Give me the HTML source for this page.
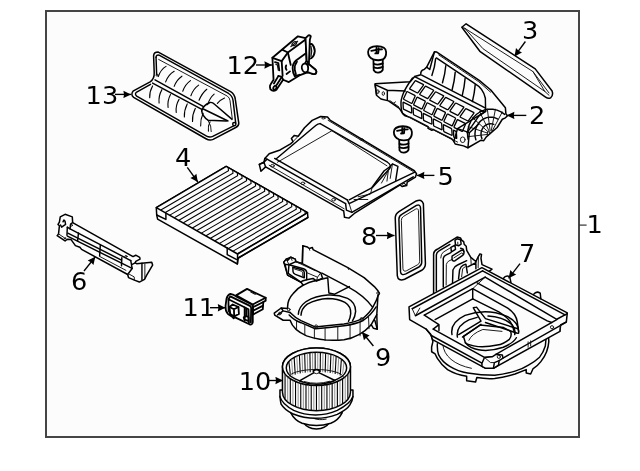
<!DOCTYPE html>
<html><head><meta charset="utf-8">
<style>
html,body{margin:0;padding:0;background:#fff;}
svg{display:block;filter:grayscale(1)}
text{font-family:"DejaVu Sans","Liberation Sans",sans-serif;font-size:25.6px;fill:#000}
.ln{vector-effect:non-scaling-stroke;fill:none;stroke:#000;stroke-width:1.45;stroke-linecap:round;stroke-linejoin:round}
.th{vector-effect:non-scaling-stroke;fill:none;stroke:#111;stroke-width:0.95;stroke-linecap:round;stroke-linejoin:round}
.fw{vector-effect:non-scaling-stroke;fill:#fcfcfc;stroke:#000;stroke-width:1.5;stroke-linecap:round;stroke-linejoin:round}
.pl{fill:none;stroke:#000;stroke-width:1.08;vector-effect:non-scaling-stroke}
.pv{fill:none;stroke:#555;stroke-width:0.6;vector-effect:non-scaling-stroke}
.fin{fill:none;stroke:#000;stroke-width:1.1;vector-effect:non-scaling-stroke}
.fin2{fill:none;stroke:#666;stroke-width:0.7;vector-effect:non-scaling-stroke}
.gc{fill:none;stroke:#000;stroke-width:1.3;stroke-linejoin:round;vector-effect:non-scaling-stroke}
.rb{fill:none;stroke:#000;stroke-width:1.1;stroke-linecap:round;vector-effect:non-scaling-stroke}
.bold .fw,.bold .ln{stroke-width:1.8}
.bold .th{stroke-width:1.25}
.ar{stroke:#000;stroke-width:1.35;fill:none}
</style></head><body>
<svg width="640" height="471" viewBox="0 0 640 471">
<defs>
<marker id="ah" markerWidth="10" markerHeight="8" refX="7" refY="4" viewBox="-2 0 10 8" orient="auto" markerUnits="userSpaceOnUse"><path d="M-0.6,0.3 L7,4 L-0.6,7.7 L0,4 Z" fill="#000"/></marker>
</defs>
<rect x="0" y="0" width="640" height="471" fill="#fff"/>
<rect x="46" y="11" width="533" height="426" fill="#fcfcfc" stroke="#454545" stroke-width="2"/>
<!--LABELS-->
<g id="labels" opacity="0.999">
<text x="85.6" y="103.6">13</text><line class="ar" x1="115" y1="94.4" x2="131" y2="94.4" marker-end="url(#ah)"/>
<text x="226.4" y="74.3">12</text><line class="ar" x1="256" y1="65" x2="272" y2="65" marker-end="url(#ah)"/>
<text x="522" y="38.8">3</text><line class="ar" x1="525.4" y1="41.5" x2="514.5" y2="56.4" marker-end="url(#ah)"/>
<text x="529" y="124.4">2</text><line class="ar" x1="526.3" y1="115.4" x2="506.8" y2="115.4" marker-end="url(#ah)"/>
<text x="437.5" y="184.7">5</text><line class="ar" x1="434.4" y1="175.4" x2="416.8" y2="175.4" marker-end="url(#ah)"/>
<text x="586.4" y="232.7">1</text><line x1="579" y1="225.1" x2="586.6" y2="225.1" stroke="#333" stroke-width="1.2"/>
<text x="519" y="261.7">7</text><line class="ar" x1="520" y1="263.6" x2="508.6" y2="278.3" marker-end="url(#ah)"/>
<text x="361" y="244.6">8</text><line class="ar" x1="376" y1="235.5" x2="394.5" y2="235.5" marker-end="url(#ah)"/>
<text x="375" y="366">9</text><line class="ar" x1="373.4" y1="346" x2="362" y2="332" marker-end="url(#ah)"/>
<text x="238.8" y="389.9">10</text><line class="ar" x1="268" y1="380.5" x2="283" y2="380.5" marker-end="url(#ah)"/>
<text x="182.4" y="316.4">11</text><line class="ar" x1="210" y1="307.7" x2="225.4" y2="307.7" marker-end="url(#ah)"/>
<text x="71" y="290.3">6</text><line class="ar" x1="84" y1="271" x2="95.3" y2="256.8" marker-end="url(#ah)"/>
<text x="175" y="165.7">4</text><line class="ar" x1="187.3" y1="167.3" x2="197.8" y2="182" marker-end="url(#ah)"/>
</g>
<!-- p00screws.svg -->
<defs><g id="screw" class="bold" transform="scale(0.07645)">
<path class="fw" d="M228,225 L232,370 Q250,402 290,400 Q335,398 350,365 L350,225 Z"/>
<path class="ln" d="M232,285 Q285,310 350,280 M232,330 Q285,355 350,325"/>
<path class="fw" d="M158,130 Q160,60 275,55 Q390,58 394,130 Q398,200 350,228 Q290,250 228,228 Q158,200 158,130 Z"/>
<path class="ln" d="M200,115 L252,105 M290,100 L340,95 M268,75 L268,150 M295,80 L293,135 M252,150 L290,148"/>
</g></defs>
<use href="#screw" x="356" y="42"/>
<use href="#screw" x="381.76" y="122.05"/>

<!-- p02.svg -->
<g transform="translate(368,45) scale(0.23568)">
<path class="fw" d="M30,164 L179,156 L198,134 L224,126 Q222,108 238,104 L249,94 L282,29 L292,30 L472,150 L521,191 L583,266 L585,291 L591,301 L583,309 L570,315 L548,350 L502,390 L491,406 L480,404 L424,436 L405,428 L370,420 L364,409 L356,399 L276,358 L271,362 L255,354 L255,347 L179,307 L155,299 L149,293 L133,269 L87,237 L55,229 L36,213 Z"/>
<path class="ln" d="M290,55 L452,163 Q490,185 498,226 L499,282"/>
<path class="th" d="M300,42 L470,156 L520,200"/>
<path class="ln" d="M287,58 Q284,93 271,129"/>
<path class="ln" d="M330,88 Q327,124 316,160"/>
<path class="ln" d="M370,116 Q367,153 357,190"/>
<path class="ln" d="M412,142 Q409,178 400,214"/>
<path class="ln" d="M455,168 Q452,204 443,240"/>
<path class="ln" d="M249,94 L262,104 L282,29"/>
<path class="ln" d="M198,134 L494,285"/>
<path class="ln" d="M228,128 L499,268"/>
<path class="gc" d="M199.2,152.9 Q201.0,150.5 203.7,151.9 L233.8,167.1 Q236.5,168.5 234.7,170.9 L212.3,201.6 Q210.5,204.0 207.8,202.6 L178.2,187.4 Q175.5,186.0 177.3,183.6 Z"/>
<path class="gc" d="M242.0,176.7 Q243.8,174.3 246.5,175.7 L276.6,190.9 Q279.3,192.3 277.5,194.7 L255.1,225.4 Q253.3,227.8 250.6,226.4 L221.0,211.2 Q218.3,209.8 220.1,207.4 Z"/>
<path class="gc" d="M284.8,200.5 Q286.6,198.1 289.3,199.5 L319.4,214.7 Q322.1,216.1 320.3,218.5 L297.9,249.2 Q296.1,251.6 293.4,250.2 L263.8,235.0 Q261.1,233.6 262.9,231.2 Z"/>
<path class="gc" d="M327.6,224.3 Q329.4,221.9 332.1,223.3 L362.2,238.5 Q364.9,239.9 363.1,242.3 L340.7,273.0 Q338.9,275.4 336.2,274.0 L306.6,258.8 Q303.9,257.4 305.7,255.0 Z"/>
<path class="gc" d="M370.4,248.1 Q372.2,245.7 374.9,247.1 L405.0,262.3 Q407.7,263.7 405.9,266.1 L383.5,296.8 Q381.7,299.2 379.0,297.8 L349.4,282.6 Q346.7,281.2 348.5,278.8 Z"/>
<path class="gc" d="M413.2,271.9 Q415.0,269.5 417.7,270.9 L447.8,286.1 Q450.5,287.5 448.7,289.9 L426.3,320.6 Q424.5,323.0 421.8,321.6 L392.2,306.4 Q389.5,305.0 391.3,302.6 Z"/>
<path class="gc" d="M164.2,199.7 Q165.5,197.0 168.2,198.4 L198.3,213.6 Q201.0,215.0 199.8,217.7 L187.2,245.8 Q186.0,248.5 183.3,247.1 L152.7,231.4 Q150.0,230.0 151.3,227.3 Z"/>
<path class="gc" d="M207.0,223.5 Q208.3,220.8 211.0,222.2 L241.1,237.4 Q243.8,238.8 242.6,241.5 L230.0,269.6 Q228.8,272.3 226.1,270.9 L195.5,255.2 Q192.8,253.8 194.1,251.1 Z"/>
<path class="gc" d="M249.8,247.3 Q251.1,244.6 253.8,246.0 L283.9,261.2 Q286.6,262.6 285.4,265.3 L272.8,293.4 Q271.6,296.1 268.9,294.7 L238.3,279.0 Q235.6,277.6 236.9,274.9 Z"/>
<path class="gc" d="M292.6,271.1 Q293.9,268.4 296.6,269.8 L326.7,285.0 Q329.4,286.4 328.2,289.1 L315.6,317.2 Q314.4,319.9 311.7,318.5 L281.1,302.8 Q278.4,301.4 279.7,298.7 Z"/>
<path class="gc" d="M335.4,294.9 Q336.7,292.2 339.4,293.6 L369.5,308.8 Q372.2,310.2 371.0,312.9 L358.4,341.0 Q357.2,343.7 354.5,342.3 L323.9,326.6 Q321.2,325.2 322.5,322.5 Z"/>
<path class="gc" d="M378.2,318.7 Q379.5,316.0 382.2,317.4 L412.3,332.6 Q415.0,334.0 413.8,336.7 L401.2,364.8 Q400.0,367.5 397.3,366.1 L366.7,350.4 Q364.0,349.0 365.3,346.3 Z"/>
<path class="gc" d="M148.6,245.0 Q148.5,242.0 151.2,243.4 L181.3,258.6 Q184.0,260.0 184.2,263.0 L185.8,286.0 Q186.0,289.0 183.3,287.7 L152.7,273.3 Q150.0,272.0 149.9,269.0 Z"/>
<path class="gc" d="M191.4,268.8 Q191.3,265.8 194.0,267.2 L224.1,282.4 Q226.8,283.8 227.0,286.8 L228.6,309.8 Q228.8,312.8 226.1,311.5 L195.5,297.1 Q192.8,295.8 192.7,292.8 Z"/>
<path class="gc" d="M234.2,292.6 Q234.1,289.6 236.8,291.0 L266.9,306.2 Q269.6,307.6 269.8,310.6 L271.4,333.6 Q271.6,336.6 268.9,335.3 L238.3,320.9 Q235.6,319.6 235.5,316.6 Z"/>
<path class="gc" d="M277.0,316.4 Q276.9,313.4 279.6,314.8 L309.7,330.0 Q312.4,331.4 312.6,334.4 L314.2,357.4 Q314.4,360.4 311.7,359.1 L281.1,344.7 Q278.4,343.4 278.3,340.4 Z"/>
<path class="gc" d="M319.8,340.2 Q319.7,337.2 322.4,338.6 L352.5,353.8 Q355.2,355.2 355.4,358.2 L357.0,381.2 Q357.2,384.2 354.5,382.9 L323.9,368.5 Q321.2,367.2 321.1,364.2 Z"/>
<path class="gc" d="M362.6,363.0 Q362.5,361.0 364.3,361.9 L373.1,366.4 Q374.9,367.3 375.0,369.3 L376.5,395.0 Q376.6,396.9 374.8,396.1 L365.8,391.9 Q364.0,391.0 363.9,389.0 Z"/>
<path class="ln" d="M189,140 Q160,180 150,205 Q138,235 140,254 Q141,280 147,290 L166,303"/>
<path class="th" d="M166,303 L380,412"/>
<path class="ln" d="M82,192 L158,195 M82,192 L82,233 M36,209 L30,168 L82,192"/>
<ellipse class="th" cx="42" cy="198" rx="5" ry="8"/><ellipse class="th" cx="65" cy="206" rx="5" ry="8"/>
<path class="th" d="M93,236 L109,247 L117,241 M109,247 L130,262"/>
<path class="ln" d="M533.8,336.7 L526.8,334.6 L519.5,334.0 L512.2,334.8 L505.1,337.1 L498.6,340.7 L492.8,345.5 L487.8,351.3 L483.9,358.1 L481.2,365.5 L479.8,373.3 L479.6,381.2 L480.8,389.1 L483.3,396.6"/>
<path class="ln" d="M551.1,314.4 L539.8,309.3 L527.8,306.5 L515.6,306.2 L503.5,308.3 L491.9,312.8 L481.4,319.5 L472.1,328.3 L464.5,338.7 L458.8,350.5 L455.2,363.2 L453.8,376.5 L454.6,389.7 L457.8,402.6"/>
<path class="ln" d="M580.0,294.5 L564.6,283.7 L547.6,276.3 L529.7,272.5 L511.4,272.4 L493.4,276.0 L476.3,283.2 L460.8,293.8 L447.4,307.3 L436.5,323.3 L428.5,341.2 L423.8,360.4 L422.5,380.3 L424.6,400.0"/>
<path class="th" d="M526.4,365.9 L569.7,284.5"/>
<path class="th" d="M522.7,364.3 L540.7,272.4"/>
<path class="th" d="M518.2,364.1 L506.2,271.1"/>
<path class="th" d="M514.0,365.6 L473.4,282.6"/>
<path class="th" d="M510.1,369.0 L443.9,308.6"/>
<path class="th" d="M507.7,373.9 L425.0,346.4"/>
<path class="th" d="M507.2,379.5 L421.2,389.3"/>
<path class="ln" d="M499,282 L470,302 L440,345 L420,372"/>
<path class="ln" d="M494,285 L380,355 L364,409"/>
<path class="ln" d="M380,355 L430,372 L424,436"/>
<path class="ln" d="M430,372 L470,335"/>
<ellipse class="th" cx="402" cy="402" rx="10" ry="12"/>
<ellipse class="th" cx="512" cy="374" rx="6" ry="7"/>
</g>

<!-- p03.svg -->
<g transform="translate(455,15) scale(0.19108)">
<path class="fw" d="M36,64 L58,46 L420,282 L508,398 Q516,420 500,434 Q488,440 474,430 L130,190 Z"/>
<path class="th" d="M52,70 L408,296 L492,408"/>
<path class="th" d="M52,70 L146,176 L470,400 L492,420"/>
<path class="th" d="M408,296 L470,400"/>
<path class="th" d="M36,64 L52,70"/>
</g>

<!-- p04.svg -->
<g>
<path class="fw" d="M156.3,207.7 L156.7,215 L157.6,219.2 L237.4,264 L238.3,258 L307.9,217.6 L307.5,212.7 L226.2,166.4 Z"/>
<path class="fw" d="M226.2,166.4 L307.5,212.7 L237.6,254.0 L156.3,207.7 Z"/>
<path class="ln" d="M238.2,258.0 L307.9,217.3"/>
<path class="ln" d="M237.6,254.0 L237.4,264"/>
<path class="pl" d="M228.2,167.6 L228.5,170.6 L160.8,210.0"/>
<path class="pl" d="M232.7,170.1 L233.0,173.1 L165.3,212.5"/>
<path class="pl" d="M237.3,172.7 L237.6,175.7 L169.8,215.1"/>
<path class="pl" d="M241.8,175.3 L242.1,178.3 L174.3,217.7"/>
<path class="pl" d="M246.3,177.8 L246.6,180.8 L178.9,220.2"/>
<path class="pl" d="M250.8,180.4 L251.1,183.4 L183.4,222.8"/>
<path class="pl" d="M255.3,183.0 L255.6,186.0 L187.9,225.4"/>
<path class="pl" d="M259.8,185.6 L260.1,188.6 L192.4,228.0"/>
<path class="pl" d="M264.4,188.1 L264.7,191.1 L196.9,230.5"/>
<path class="pl" d="M268.9,190.7 L269.2,193.7 L201.4,233.1"/>
<path class="pl" d="M273.4,193.3 L273.7,196.3 L206.0,235.7"/>
<path class="pl" d="M277.9,195.9 L278.2,198.9 L210.5,238.2"/>
<path class="pl" d="M282.4,198.4 L282.7,201.4 L215.0,240.8"/>
<path class="pl" d="M286.9,201.0 L287.2,204.0 L219.5,243.4"/>
<path class="pl" d="M291.5,203.6 L291.8,206.6 L224.0,246.0"/>
<path class="pl" d="M296.0,206.1 L296.3,209.1 L228.5,248.5"/>
<path class="pl" d="M300.5,208.7 L300.8,211.7 L233.1,251.1"/>
<path class="pl" d="M305.0,211.3 L305.3,214.3 L237.5,253.6"/>
<path class="ln" d="M165.9,213.3 L165.9,219.4 M156.7,215 L165.9,219.4"/>
<path class="ln" d="M227.2,247.8 L227.2,254.6 L236.3,259.4"/>
</g>

<!-- p05.svg -->
<g transform="translate(250,105) scale(0.27390)">
<path class="fw" d="M258,42 L283,44 L292,55 L600,240 L608,251 L604,263 L574,282 L572,294 L556,298 L548,292 L381,396 L361,413 L345,410 L342,386 L338,385 L57,226 L40,242 L34,217 L51,209 L54,195 L70,178 L110,164 L148,142 L157,134 L151,122 L162,111 L176,114 L199,83 L227,56 Z"/>
<!-- top-right rail lines -->
<path class="th" d="M285,56 L596,243"/>
<path class="ln" d="M256,68 Q248,68 240,75 L96,196"/>
<path class="ln" d="M256,68 L502,209 Q518,219 510,232 L446,302 L362,346"/>
<!-- inner opening depth -->
<path class="th" d="M299,94 L100,209"/>
<path class="th" d="M299,94 L500,222"/>
<!-- bottom-left rail -->
<path class="ln" d="M90,195 L355,346"/>
<path class="ln" d="M62,198 L349,360"/>
<path class="th" d="M70,220 L344,379"/>
<path class="ln" d="M51,209 L62,198 L54,195"/>
<path class="ln" d="M34,217 L51,209 L57,226"/>
<ellipse class="th" cx="82" cy="222" rx="7" ry="4.5"/>
<ellipse class="th" cx="193" cy="286" rx="7" ry="4.5"/>
<ellipse class="th" cx="305" cy="346" rx="7" ry="4.5"/>
<!-- bottom-right rail -->
<path class="ln" d="M355,346 L362,360 L600,246"/>
<path class="ln" d="M349,360 L352,384 L372,392"/>
<path class="ln" d="M372,392 L596,262"/>
<path class="th" d="M362,360 L372,392"/>
<!-- gusset near right corner -->
<path class="ln" d="M508,228 L520,215 L540,224 L532,275"/>
<path class="ln" d="M446,300 L490,240 L508,228"/>
<path class="th" d="M480,285 L505,240 L500,278"/>
<path class="th" d="M520,215 L512,268"/>
<path class="th" d="M395,335 L440,325 L446,300"/>
<path class="th" d="M380,345 L430,345"/>
<ellipse class="th" cx="562" cy="290" rx="6" ry="4"/>
<!-- top corner hole -->
<ellipse class="th" cx="268" cy="48" rx="6" ry="3"/>
<ellipse class="th" cx="408" cy="126" rx="6" ry="3"/>
<!-- left bump -->
<path class="th" d="M157,134 L176,114"/>
</g>

<!-- p06.svg -->
<g transform="translate(52,205) scale(0.17197)">
<path class="fw" d="M48,69 L76,54 L118,69 L120,102 L471,300 L487,292 L510,305 L512,315 L487,328 L484,336 L492,341 L580,333 L585,349 L549,411 L538,432 L508,448 L479,437 L445,422 L440,404 L172,258 L162,246 L136,236 L110,200 L89,199 L76,209 L30,178 L38,168 L43,121 L35,113 L43,100 Z"/>
<!-- long lines -->
<path class="ln" d="M105,139 L458,323"/>
<path class="ln" d="M92,164 L404,320"/>
<path class="ln" d="M90,181 L466,369"/>
<path class="th" d="M279,300 L430,380"/>
<path class="ln" d="M89,129 L87,176"/>
<path class="ln" d="M154,163 L149,207"/>
<path class="ln" d="M281,232 L277,296"/>
<path class="ln" d="M406,307 L404,354"/>
<!-- left block -->
<path class="ln" d="M64,98 L69,87 L76,95 L79,113 L56,129 L50,116"/>
<path class="ln" d="M120,102 L108,111 L105,139 L89,129"/>
<path class="th" d="M38,168 L86,200"/>
<ellipse class="th" cx="113" cy="118" rx="6" ry="5"/>
<path class="th" d="M70,196 L80,190"/>
<!-- right block -->
<ellipse class="th" cx="430" cy="299" rx="7" ry="5"/>
<path class="ln" d="M458,323 L466,369 L440,404"/>
<path class="ln" d="M484,336 L466,345"/>
<path class="ln" d="M523,338 L523,434"/>
<path class="th" d="M540,343 L540,428"/>
<path class="th" d="M445,400 L478,418 L479,437"/>
</g>

<!-- p07.svg -->
<g transform="translate(395,232) scale(0.31847)">
<!-- lower cylinder -->
<path class="fw" d="M113,320 L119,344 L115,361 L115,376 L126,383 L133,397 Q146,418 165,432 Q192,448 225,453 L225,467 L253,471 L257,457 Q285,462 313,460 Q346,456 377,446 L412,432 L412,443 L426,446 L433,430 Q448,420 458,407 Q470,392 476,376 Q482,360 483,344 L480,300 L113,300 Z"/>
<path class="ln" d="M133,351 Q132,372 137,386 Q148,408 172,422 Q198,438 228,443 Q270,450 313,450 Q346,446 377,437 Q400,430 419,418 Q440,406 454,393 Q466,378 472,358 L474,337"/>
<path class="th" d="M150,352 Q152,380 176,400 Q200,420 240,428"/>
<!-- tower -->
<g transform="translate(103.6,6.3) scale(0.32)">
<path class="fw" d="M55,600 L55,195 Q58,165 90,150 L285,30 L320,40 L330,60 L350,75 L355,100 L375,120 L380,160 L420,230 L470,270 L495,220 L510,195 L525,200 L520,240 L530,300 L628,345 L300,600 Z"/>
<path class="ln" d="M82,560 L82,205 Q84,178 108,165 L215,102"/>
<path class="th" d="M125,235 Q126,198 150,178 L225,132"/>
<path class="ln" d="M150,520 L150,240 Q154,214 180,205 L225,182"/>
<path class="th" d="M178,500 L180,300 Q184,276 206,264 L236,250"/>
<path class="ln" d="M265,62 L285,46 L320,56 L325,100 L300,116 L270,106 Z"/>
<path class="th" d="M292,80 L294,108"/>
<path class="ln" d="M225,132 L265,110 L270,150 L230,176 Z"/>
<path class="ln" d="M236,216 L322,162 Q344,152 352,172 Q358,194 340,210 L266,262 Q242,272 236,250 Z"/>
<path class="th" d="M254,234 L330,186 Q340,184 340,194"/>
<path class="ln" d="M320,140 L346,150 L352,172"/>
<path class="ln" d="M240,500 L245,352 Q256,318 290,304 L380,262"/>
<path class="ln" d="M300,440 L310,352 Q322,318 346,306 L372,296 L386,382"/>
<path class="th" d="M330,420 L340,340 L364,322"/>
<path class="ln" d="M390,322 L470,282 M470,270 L470,342"/>
<path class="th" d="M495,220 L492,330 M420,230 L424,300"/>
</g>
<!-- frame outer -->
<path class="fw" d="M44,235 L273,112 L541,254 L538,282 L520,292 L518,312 L327,418 L309,428 L285,428 L273,422 L118,338 L112,321 L98,305 L46,275 Z"/>
<!-- back-left lines -->
<path class="ln" d="M54,241 L275,122"/>
<path class="th" d="M54,241 L64,263 L78,239"/>
<path class="ln" d="M64,263 L283,142"/>
<path class="ln" d="M92,261 L244,178"/>
<path class="ln" d="M126,275 L244,210"/>
<path class="ln" d="M244,178 L244,210"/>
<path class="th" d="M283,142 L244,178"/>
<!-- back-right lines -->
<path class="ln" d="M275,122 L534,260"/>
<path class="ln" d="M283,142 L508,274 L541,256"/>
<path class="ln" d="M258,160 L478,279 L492,284"/>
<path class="ln" d="M244,178 L354,239 Q380,256 384,282 L388,312"/>
<path class="ln" d="M244,210 L326,251 Q360,272 368,292 L376,318"/>
<!-- left block -->
<path class="ln" d="M92,261 L138,291 L138,309 M138,291 L120,305"/>
<!-- front-left rail -->
<path class="ln" d="M120,305 L281,394 L305,392"/>
<path class="ln" d="M98,305 L114,325 L273,412"/>
<!-- front-right rail -->
<path class="ln" d="M508,275 L317,384"/>
<path class="ln" d="M538,283 L339,396"/>
<path class="th" d="M520,292 L518,312"/>
<!-- corner post -->
<path class="fw" d="M305,392 L317,384 L337,386 L339,396 L327,404 L325,418 L309,428 L285,428 L273,422 L273,412 L281,394 Z"/>
<path class="ln" d="M327,404 L312,410 L309,428"/>
<path class="th" d="M281,394 L300,410 L312,410"/>
<!-- circular opening -->
<path class="ln" d="M179,322 Q172,285 220,262 Q285,238 350,264 Q392,284 388,318"/>
<path class="ln" d="M196,330 Q190,296 232,276 L258,268 M292,264 Q345,268 368,292 Q380,306 376,322"/>
<path class="ln" d="M215,328 L221,348 Q236,366 262,370 Q300,376 340,362 Q372,348 381,332"/>
<path class="ln" d="M215,328 L268,292 L341,300 L363,312 Q368,326 359,337 Q340,352 321,355 Q290,362 261,360 Q230,356 221,348"/>
<path class="th" d="M232,340 Q240,320 276,306 L336,312"/>
<!-- spokes -->
<path class="ln" d="M246,238 L270,280 L200,322 M256,236 L284,272 L386,304 M246,238 L256,236 M284,284 L384,318 M270,290 L212,330"/>
<!-- bolt holes -->
<circle class="th" cx="493" cy="299" r="5"/>
<circle class="th" cx="326" cy="392" r="5"/>
<path class="th" d="M418,345 L418,362 M426,342 L426,358"/>
<!-- bumps on back-right edge -->
<path class="ln" d="M340,146 Q348,134 360,140 L364,158 M435,196 Q444,184 456,192 L458,210"/>
</g>

<!-- p08.svg -->
<g transform="translate(350,192) scale(0.20382)">
<path class="fw" d="M222,128 Q222,108 240,96 L325,44 Q352,32 360,58 L370,352 Q370,372 352,384 L268,428 Q236,440 232,410 Z"/>
<path class="ln" d="M240,134 Q240,118 254,110 L326,66 Q344,58 346,78 L352,344 Q352,360 338,368 L274,402 Q250,412 248,392 Z"/>
<path class="th" d="M252,138 Q252,126 262,120 L322,84 Q334,78 336,92 L342,340 Q342,352 330,358 L278,386 Q262,394 260,378 Z"/>
</g>

<!-- p09.svg -->
<g transform="translate(262,240) scale(0.22292)">
<!-- back wall + scroll silhouette -->
<path class="fw" d="M183,26 L203,31 L212,38 L226,34 L229,43 L385,124 L458,169 L504,209 L521,229 L527,240 L520,250 L515,335 L517,400 L500,396 L490,380 Q440,436 368,447 Q283,458 200,430 Q140,404 126,360 L95,360 L57,337 L55,328 L86,305 L115,307 Q112,270 140,240 Q160,215 186,202 L180,197 L175,189 L115,157 L98,100 L109,86 L129,77 L149,86 L152,97 L181,106 Z"/>
<!-- back wall edges -->
<path class="ln" d="M181,106 L183,26"/>
<!-- inlet box (fine coords) -->
<g transform="translate(9,0) scale(0.5715)">
<path class="fw" d="M155,175 L175,150 L185,160 L210,135 L245,150 L250,170 L300,185 L445,258 L460,300 L412,322 L385,302 L335,312 L300,322 L292,332 L185,276 L165,192 Z"/>
<path class="ln" d="M250,170 L196,194 L165,192 M196,194 L190,262 L292,332"/>
<path class="ln" d="M196,194 L310,226 Q335,236 335,256 L335,312"/>
<path class="ln" d="M226,214 L298,234 Q316,240 316,256 L316,296 L246,270 Q228,262 228,250 Z"/>
<path class="th" d="M240,228 L292,244 Q304,248 304,258 L304,280"/>
<path class="th" d="M250,170 L400,240 M335,256 L420,292 L412,322"/>
<path class="th" d="M175,150 L196,194 M210,135 L220,160"/>
<path class="th" d="M420,292 L445,258"/>
</g>
<!-- partition -->
<path class="ln" d="M237,183 L295,170 L300,238 L326,243 L392,209"/>
<path class="th" d="M272,172 L295,170"/>
<!-- scroll top rim (far side) -->
<path class="ln" d="M186,202 Q210,190 237,183"/>
<path class="ln" d="M269,149 L384,209 Q458,249 495,300"/>
<!-- flange ring near side -->
<path class="ln" d="M126,325 Q150,350 175,362 L238,390 Q300,385 368,377 Q420,368 452,352 Q485,325 498,300 Q515,270 521,249"/>
<path class="ln" d="M122,336 Q142,358 175,371 L239,398 Q300,394 368,385 Q420,377 454,361 Q488,338 512,300"/>
<!-- skirt ribs -->
<path class="th" d="M155,364 L155,400 M192,382 L192,426 M235,398 L235,443 M283,398 L283,451 M340,392 L340,451 M395,382 L395,444 M440,368 L440,430 M478,346 L480,398"/>
<!-- inner ellipses -->
<path class="ln" d="M163,333 Q165,300 198,276 Q240,250 295,247 Q340,244 384,262 Q420,280 420,320 Q418,345 406,363"/>
<path class="ln" d="M175,338 Q176,308 203,288 Q245,264 295,262 Q340,262 372,280 Q400,298 398,330 Q396,350 388,365"/>
<!-- ear -->
<path class="ln" d="M86,305 L95,318 L126,325 M95,318 L70,336"/>
<circle class="th" cx="80" cy="330" r="6"/>
<circle class="th" cx="120" cy="312" r="6"/>
<circle class="th" cx="243" cy="388" r="7"/>
<circle class="th" cx="447" cy="355" r="7"/>
<circle class="th" cx="521" cy="238" r="6"/>
<!-- fin -->
<path class="ln" d="M515,335 L490,380 M506,360 L517,400"/>
<path class="th" d="M385,124 L388,132 M212,38 L214,46"/>
</g>

<!-- p10.svg -->
<g transform="translate(262,340) scale(0.19108)">
<path class="fw" d="M218,432 Q236,462 285,466 Q334,462 352,432 Z"/>
<path class="fw" d="M150,380 Q170,420 210,436 Q250,448 285,448 Q320,448 360,436 Q400,420 420,380 Z"/>
<path class="th" d="M270,410 Q296,422 336,414"/>
<path class="fw" d="M94,262 L94,296 Q96,320 100,336 Q118,366 160,386 Q220,410 280,410 Q340,410 394,389 Q444,366 460,340 Q474,316 476,296 L476,262 Z"/>
<path class="ln" d="M94,296 Q104,334 166,368 Q220,392 280,392 Q340,392 394,368 Q462,334 476,296"/>
<path class="fw" d="M107,140 L107,272 A178,98 0 0 0 463,272 L463,140 A178,98 0 0 0 107,140 Z"/>
<ellipse class="fw" cx="285" cy="140" rx="178" ry="98"/>
<ellipse class="ln" cx="285" cy="146" rx="158" ry="82"/>
<path class="fin" d="M120.7,179.7 L120.7,307.7"/>
<path class="fin2" d="M134.4,194.2 L134.4,322.2"/>
<path class="fin" d="M148.1,204.6 L148.1,332.6"/>
<path class="fin2" d="M161.8,212.7 L161.8,340.7"/>
<path class="fin" d="M175.5,219.2 L175.5,347.2"/>
<path class="fin2" d="M189.2,224.6 L189.2,352.6"/>
<path class="fin" d="M202.8,228.9 L202.8,356.9"/>
<path class="fin2" d="M216.5,232.5 L216.5,360.5"/>
<path class="fin" d="M230.2,235.2 L230.2,363.2"/>
<path class="fin2" d="M243.9,237.4 L243.9,365.4"/>
<path class="fin" d="M257.6,238.8 L257.6,366.8"/>
<path class="fin2" d="M271.3,239.7 L271.3,367.7"/>
<path class="fin" d="M285.0,240.0 L285.0,368.0"/>
<path class="fin2" d="M298.7,239.7 L298.7,367.7"/>
<path class="fin" d="M312.4,238.8 L312.4,366.8"/>
<path class="fin2" d="M326.1,237.4 L326.1,365.4"/>
<path class="fin" d="M339.8,235.2 L339.8,363.2"/>
<path class="fin2" d="M353.5,232.5 L353.5,360.5"/>
<path class="fin" d="M367.2,228.9 L367.2,356.9"/>
<path class="fin2" d="M380.8,224.6 L380.8,352.6"/>
<path class="fin" d="M394.5,219.2 L394.5,347.2"/>
<path class="fin2" d="M408.2,212.7 L408.2,340.7"/>
<path class="fin" d="M421.9,204.6 L421.9,332.6"/>
<path class="fin2" d="M435.6,194.2 L435.6,322.2"/>
<path class="fin" d="M449.3,179.7 L449.3,307.7"/>
<path class="fin" d="M140.7,113.6 L148.0,177.4"/>
<path class="fin2" d="M154.5,100.8 L161.0,186.0"/>
<path class="fin" d="M168.2,91.8 L174.1,181.3"/>
<path class="fin2" d="M182.0,84.8 L187.1,177.7"/>
<path class="fin" d="M195.7,79.4 L200.2,174.8"/>
<path class="fin2" d="M209.4,75.0 L213.2,172.6"/>
<path class="fin" d="M223.2,71.5 L226.3,170.8"/>
<path class="fin2" d="M236.9,68.9 L239.3,169.4"/>
<path class="fin" d="M250.7,67.0 L252.4,168.4"/>
<path class="fin2" d="M264.4,65.7 L265.4,167.7"/>
<path class="fin" d="M278.1,65.1 L278.5,167.4"/>
<path class="fin2" d="M291.9,65.1 L291.5,167.4"/>
<path class="fin" d="M305.6,65.7 L304.6,167.7"/>
<path class="fin2" d="M319.3,67.0 L317.6,168.4"/>
<path class="fin" d="M333.1,68.9 L330.7,169.4"/>
<path class="fin2" d="M346.8,71.5 L343.7,170.8"/>
<path class="fin" d="M360.6,75.0 L356.8,172.6"/>
<path class="fin2" d="M374.3,79.4 L369.8,174.8"/>
<path class="fin" d="M388.0,84.8 L382.9,177.7"/>
<path class="fin2" d="M401.8,91.8 L395.9,181.3"/>
<path class="fin" d="M415.5,100.8 L409.0,186.0"/>
<path class="fin2" d="M429.3,113.6 L422.0,177.4"/>
<path class="th" d="M138.1,196.0 A142.2,41.0 0 0 1 427.2,196.0"/>
<path class="fw" d="M196,214 L270,172 L270,160 Q285,150 300,160 L300,172 L382,212 Q285,250 196,214 Z"/>
<path class="th" d="M270,172 Q285,182 300,172"/>
<path class="th" d="M222,218 Q285,236 355,216"/>
</g>

<!-- p11.svg -->
<g class="bold" transform="translate(216,282) scale(0.09554)">
<!-- rear box -->
<path class="fw" d="M210,140 L325,72 L520,165 L520,195 L495,210 L490,285 L390,340 L385,235 Z"/>
<path class="ln" d="M385,235 L520,165 M390,262 L495,210 M390,300 L488,250"/>
<path class="th" d="M365,105 L410,128 L420,122"/>
<!-- front flange -->
<path class="fw" d="M110,175 Q120,135 150,125 L185,135 L210,150 L365,230 Q385,240 385,260 L385,420 Q380,450 355,445 L200,370 L185,380 L165,360 L125,335 Q95,300 100,250 Z"/>
<path class="ln" d="M130,180 L150,150 L355,250 Q368,258 368,275 L365,425"/>
<path class="ln" d="M130,180 L132,300 L160,345 M130,180 L340,285 L345,430"/>
<!-- connector block -->
<path class="fw" d="M140,262 L175,235 L235,262 L240,335 L190,360 L150,335 Z"/>
<path class="ln" d="M140,262 L188,285 L235,262 M188,285 L190,360"/>
<!-- right details -->
<path class="ln" d="M300,265 L300,400 M320,280 L320,350"/>
<path class="ln" d="M290,370 L320,355 L340,370 L340,410 L295,390 Z"/>
</g>

<!-- p12.svg -->
<g class="bold" transform="translate(264,32) scale(0.09551)">
<!-- motor behind plate -->
<path class="fw" d="M476,128 L500,125 Q530,150 532,200 Q528,250 495,275 L474,282 Z"/>
<path class="th" d="M492,150 Q508,200 492,255"/>
<!-- body silhouette -->
<path class="fw" d="M88,270 L355,45 L435,65 L445,300 L430,330 L470,340 L540,395 Q556,415 540,436 Q520,448 470,424 L440,428 L370,455 L260,524 L200,500 L130,605 Q95,630 68,602 Q55,560 70,548 L100,499 Z"/>
<!-- plate -->
<path class="fw" d="M435,65 L465,35 Q482,30 490,45 L480,80 L470,335 L447,300 Z"/>
<!-- top face / edges -->
<path class="ln" d="M88,270 L185,305 L250,215 L432,82"/>
<path class="ln" d="M190,185 L250,215 L280,345"/>
<path class="ln" d="M185,305 L195,459"/>
<ellipse class="th" cx="318" cy="122" rx="28" ry="17" transform="rotate(-38 318 122)"/>
<path class="th" d="M282,152 L352,98"/>
<!-- connector -->
<path class="ln" d="M115,315 L150,326 L160,402"/>
<path class="th" d="M125,340 L140,345 L150,400"/>
<path class="ln" d="M232,350 Q220,378 236,396"/>
<path class="ln" d="M236,440 L272,412"/>
<!-- boss -->
<path class="ln" d="M432,228 L335,298 Q300,330 300,380 Q300,430 322,462"/>
<path class="ln" d="M345,312 Q318,345 322,395 L334,442"/>
<path class="ln" d="M322,462 L372,448"/>
<ellipse class="fw" cx="432" cy="376" rx="36" ry="46" transform="rotate(-12 432 376)"/>
<path class="fw" d="M452,338 L474,340 L540,395 Q556,415 540,436 Q520,448 470,424 L452,420 Q474,380 452,338 Z"/>
<!-- lower -->
<path class="ln" d="M150,460 L186,470 L200,500"/>
<path class="ln" d="M150,462 L104,540 M186,472 L132,556"/>
<ellipse class="ln" cx="114" cy="584" rx="15" ry="22" transform="rotate(25 114 584)"/>
</g>

<!-- p13.svg -->
<g transform="translate(122,46) scale(0.20382)">
<!-- outer -->
<path class="fw" d="M155,48 Q156,30 178,30 L533,224 Q553,236 556,262 L573,378 Q574,392 558,400 L447,458 Q430,466 412,455 L57,252 Q40,238 56,220 L138,176 Q160,160 158,130 Z"/>
<!-- inner rim top flap -->
<path class="ln" d="M167,55 Q168,42 182,45 L523,233 Q542,245 545,268 L558,378"/>
<path class="ln" d="M167,55 L170,140"/>
<!-- inner rim bottom flap -->
<path class="ln" d="M140,188 L72,226 Q60,236 72,246 L415,442 Q430,450 445,443 L548,392"/>
<!-- ridge -->
<path class="ln" d="M162,166 L400,297"/>
<path class="ln" d="M150,182 L394,312"/>
<circle class="th" cx="172" cy="143" r="5"/>
<circle class="ln" cx="551" cy="383" r="8"/>
<!-- upper ribs -->
<path class="rb" d="M178,150 Q190,115 216,100"/>
<path class="rb" d="M214,176 Q228,140 256,124"/>
<path class="rb" d="M256,198 Q268,165 294,148"/>
<path class="rb" d="M298,222 Q310,188 336,170"/>
<path class="rb" d="M338,244 Q350,210 376,192"/>
<path class="rb" d="M378,266 Q392,232 416,212"/>
<path class="rb" d="M420,288 Q430,255 452,236"/>
<path class="rb" d="M468,282 Q485,262 503,255"/>
<!-- lower ribs -->
<path class="rb" d="M150,196 Q134,225 136,254"/>
<path class="rb" d="M196,214 Q178,245 182,280"/>
<path class="rb" d="M238,238 Q222,268 226,302"/>
<path class="rb" d="M280,262 Q262,292 266,326"/>
<path class="rb" d="M320,284 Q304,316 306,348"/>
<path class="rb" d="M360,306 Q344,338 346,370"/>
<path class="rb" d="M398,330 Q384,360 386,392"/>
<path class="rb" d="M432,372 Q420,395 424,418"/>
<!-- end cone -->
<path class="ln" d="M391,318 Q398,290 432,277 Q444,275 454,286 L540,360"/>
<path class="ln" d="M391,318 Q394,344 422,364 L512,368"/>
<path class="ln" d="M399,309 L520,368"/>
<path class="th" d="M422,364 Q440,392 438,420"/>
<path class="th" d="M180,66 L517,246 Q528,254 530,268 L541,356"/>
</g>


</svg>
</body></html>
